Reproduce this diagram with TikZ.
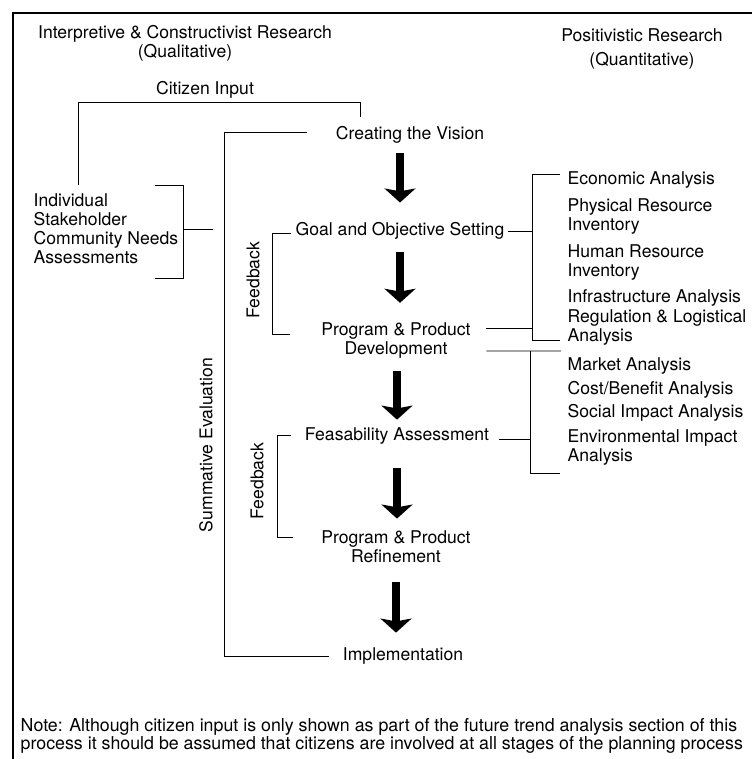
\documentclass[tikz,border=0pt]{standalone}
\usepackage{fontspec}
\setmainfont{TeX Gyre Heros}
\usetikzlibrary{arrows.meta,calc}
\tikzset{
  wire/.style={black,line width=0.6pt},
  frame/.style={black,line width=1.6pt},
  flow/.style={-{Stealth[length=10pt,width=22pt,inset=2pt]},line width=5pt},
  lab/.style={inner sep=1pt,align=center,font=\fontsize{12.5}{13.5}\selectfont},
  stage/.style={lab},
  item/.style={lab,anchor=west,align=left},
  side/.style={lab,rotate=90},
  note/.style={inner sep=1pt,anchor=west,align=left,font=\fontsize{12.65}{12.8}\selectfont},
}
\begin{document}
\begin{tikzpicture}[x=0.025cm,y=-0.025cm]
  \path[use as bounding box] (0,0) rectangle (752,759);
  \draw[frame] (13,759) -- (13,13) -- (752,13);

  \node[lab] (qual) at (185,43) {Interpretive \& Constructivist Research\\(Qualitative)};
  \node[lab] (quan) at (642,49) {Positivistic Research\\[3pt](Quantitative)};
  \node[lab] (citizen) at (205,90) {Citizen Input};
  \node[lab,anchor=west,align=left] (indiv) at (32,229)
    {Individual\\Stakeholder\\Community Needs\\Assessments};

  \node[stage] (vision) at (410,135) {Creating the Vision};
  \node[stage] (goal) at (400,231) {Goal and Objective Setting};
  \node[stage] (dev) at (396,340.6) {Program \& Product\\Development};
  \node[stage] (feas) at (397,436) {Feasability Assessment};
  \node[stage] (refine) at (396,547) {Program \& Product\\Refinement};
  \node[stage] (impl) at (403,656) {Implementation};

  \node[item] (econ) at (566,180) {Economic Analysis};
  \node[item] (phys) at (566,216.6) {Physical Resource\\Inventory};
  \node[item] (human) at (566,262.6) {Human Resource\\Inventory};
  \node[item] (infra) at (566,298) {Infrastructure Analysis};
  \node[item] (regul) at (566,327.6) {Regulation \& Logistical\\Analysis};
  \node[item] (market) at (566,366) {Market Analysis};
  \node[item] (cost) at (566,390) {Cost/Benefit Analysis};
  \node[item] (social) at (566,413) {Social Impact Analysis};
  \node[item] (enviro) at (566,447.6) {Environmental Impact\\Analysis};

  \node[side] (sumlab) at (206,445) {Summative Evaluation};
  \node[side] (fblab1) at (253,280) {Feedback};
  \node[side] (fblab2) at (257,481) {Feedback};

  \coordinate (citL) at (78,102);
  \coordinate (citR) at (360,102);
  \coordinate (indT) at (183,185);
  \coordinate (indB) at (183,278);
  \coordinate (sumT) at (224,132);
  \coordinate (fbT1) at (272,233);
  \coordinate (fbT2) at (277,435);
  \coordinate (rtA) at (532,174);
  \coordinate (rtB) at (530,351);

  % citizen input
  \draw[wire,shorten >=5.9pt] (citL |- indT) -- (citL) -- (citR) -- (citR |- vision.north);
  \draw[wire] ($(indT)+(-28,0)$) -- (indT) -- (indB) -- ($(indB)+(-28,0)$);
  \draw[wire] (indT |- indiv.east) -- ++(30,0);

  % evaluation and feedback loops
  \draw[wire] ($(vision.west)+(-27,-3)$) -- (sumT) |- ($(impl.west)+(-12,0)$);
  \draw[wire] ($(goal.west)+(-3,2)$) -- (fbT1) |- ($(dev.west)+(-30,-6.6)$);
  \draw[wire] ($(feas.west)+(-12,-1)$) -- (fbT2) |- ($(refine.west)+(-27,-10)$);

  % quantitative brackets
  \draw[wire] ($(econ.west)+(-6,-6)$) -- (rtA) |- ($(regul.west)+(-6,12.4)$);
  \draw[wire] ($(goal.east)+(2,0)$) -- (goal.east -| rtA);
  \draw[wire] ($(dev.east)+(14,-12.6)$) -| (rtA);
  \draw[wire] ($(dev.east)+(14,10.4)$) -- (rtB) -- ($(market.west)+(-5,-15)$);
  \draw[wire] (rtB) |- ($(enviro.west)+(-6,25.4)$);
  \draw[wire] ($(feas.east)+(8,3)$) -| (rtB);

  % main flow
  \draw[flow,shorten <=5.9pt,shorten >=13pt] (goal.north |- vision.south) -- (goal.north);
  \draw[flow,shorten <=8pt,shorten >=13pt] (goal.south) -- (goal.south |- dev.north);
  \draw[flow,shorten <=8pt,shorten >=4.5pt] (feas.north |- dev.south) -- (feas.north);
  \draw[flow,shorten <=15.9pt,shorten >=7.6pt] (feas.south) -- (feas.south |- refine.north);
  \draw[flow,shorten <=12.6pt,shorten >=9.5pt] (refine.south) -- (refine.south |- impl.north);

  \node[note] (remark) at (19,736)
    {Note: Although citizen input is only shown as part of the future trend analysis section of this\\
     process it should be assumed that citizens are involved at all stages of the planning process};
\end{tikzpicture}
\end{document}
